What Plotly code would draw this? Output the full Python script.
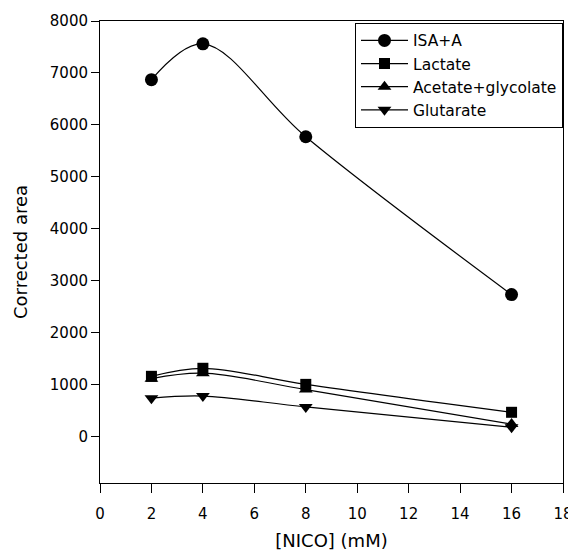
import plotly.graph_objects as go

x_nico = [2, 4, 8, 16]
isa_a = [6870, 7560, 5770, 2730]
lactate = [1155, 1310, 1000, 462]
acetate_glycolate = [1110, 1215, 900, 235]
glutarate = [735, 775, 565, 175]

series = [
    ("ISA+A", isa_a, "circle", 13),
    ("Lactate", lactate, "square", 11),
    ("Acetate+glycolate", acetate_glycolate, "triangle-up", 12),
    ("Glutarate", glutarate, "triangle-down", 12),
]

fig = go.Figure()
for name, vals, sym, sz in series:
    fig.add_trace(go.Scatter(
        x=x_nico, y=vals, name=name, mode="lines+markers",
        line=dict(color="black", width=1.2, shape="spline", smoothing=1.0),
        marker=dict(symbol=sym, size=sz, color="black"),
    ))

font = "DejaVu Sans, Arial, sans-serif"
# page body has an 8px margin, so the figure is sized to fit the 576x552 window
fig.update_layout(
    width=568, height=544,
    margin=dict(l=92, r=13, t=13, b=69),
    paper_bgcolor="white", plot_bgcolor="white",
    font=dict(family=font, size=15, color="black"),
    showlegend=True,
    legend=dict(
        x=1, xanchor="right", y=0.996, yanchor="top",
        bordercolor="black", borderwidth=1, bgcolor="white",
        font=dict(size=15.5), itemwidth=47, tracegroupgap=0,
    ),
    xaxis=dict(
        range=[0, 18], tickvals=list(range(0, 19, 2)),
        showline=True, mirror=True, linecolor="black", linewidth=1,
        ticks="outside", ticklen=9, tickcolor="black",
        ticklabelstandoff=8,
        showgrid=False, zeroline=False, automargin=False,
        title=dict(text="[NICO] (mM)", standoff=12),
    ),
    yaxis=dict(
        range=[-900, 8000], tickvals=list(range(0, 8001, 1000)),
        showline=True, mirror=True, linecolor="black", linewidth=1,
        ticks="outside", ticklen=8, tickcolor="black",
        showgrid=False, zeroline=False, automargin=False,
        title=dict(text="Corrected area", standoff=17),
    ),
)

fig.write_html("out.html")
